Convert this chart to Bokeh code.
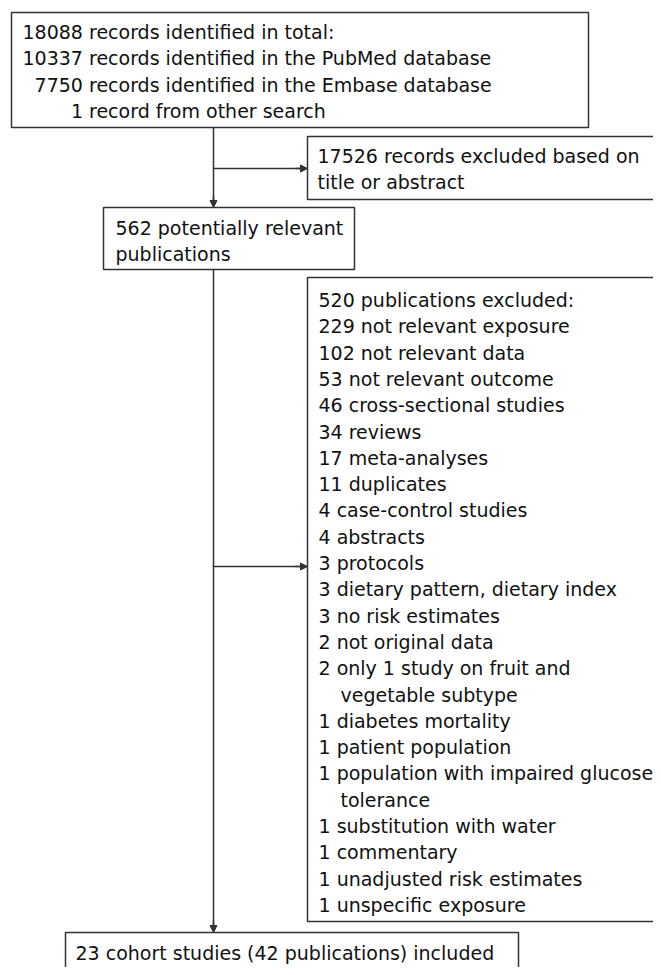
from bokeh.plotting import figure
from bokeh.models import Range1d, Arrow, NormalHead, ColumnDataSource
from bokeh.core.properties import value
from bokeh.embed import file_html
from bokeh.resources import INLINE

# ---- content (text of the flow chart) ----
identified_lines = [
    "18088 records identified in total:",
    "10337 records identified in the PubMed database",
    "7750 records identified in the Embase database",
    "1 record from other search",
]
identified_indent = [0, 0, 1, 4]  # in digit widths (right-aligned numbers)

screened_lines = ["17526 records excluded based on", "title or abstract"]
relevant_lines = ["562 potentially relevant", "publications"]

excluded_lines = [
    "520 publications excluded:",
    "229 not relevant exposure",
    "102 not relevant data",
    "53 not relevant outcome",
    "46 cross-sectional studies",
    "34 reviews",
    "17 meta-analyses",
    "11 duplicates",
    "4 case-control studies",
    "4 abstracts",
    "3 protocols",
    "3 dietary pattern, dietary index",
    "3 no risk estimates",
    "2 not original data",
    "2 only 1 study on fruit and",
    "vegetable subtype",
    "1 diabetes mortality",
    "1 patient population",
    "1 population with impaired glucose",
    "tolerance",
    "1 substitution with water",
    "1 commentary",
    "1 unadjusted risk estimates",
    "1 unspecific exposure",
]
excluded_wrapped = [l in ("vegetable subtype", "tolerance") for l in excluded_lines]

included_lines = ["23 cohort studies (42 publications) included"]

# ---- layout (pixel positions in the picture) ----
PW, PH = 653, 967
FONT = "DejaVu Sans"
FS = "19px"
LH = 26.3
LINE_COLOR = "#333333"
TEXT_COLOR = "#111111"
DIGIT = 12.1
TEXT_SHIFT = -7  # renderer places the baseline a little lower than requested

boxes = dict(
    left=[11, 307, 103, 307, 65],
    right=[588, 680, 354, 680, 518],
    top=[12, 136, 207, 277, 932],
    bottom=[127, 199, 269, 921, 1000],
)

p = figure(width=PW, height=PH, x_range=Range1d(0, PW), y_range=Range1d(PH, 0),
           output_backend="svg", toolbar_location=None,
           x_axis_location=None, y_axis_location=None, min_border=0)
p.outline_line_color = None
p.xgrid.visible = False
p.ygrid.visible = False
p.background_fill_color = "white"

p.quad(source=ColumnDataSource(boxes), left="left", right="right", top="top", bottom="bottom",
       fill_color=None, line_color=LINE_COLOR, line_width=1.5)

MAIN_X = 213
p.segment(x0=[MAIN_X], y0=[127], x1=[MAIN_X], y1=[207 - 7], line_color=LINE_COLOR, line_width=1.5)
p.segment(x0=[MAIN_X], y0=[269], x1=[MAIN_X], y1=[932 - 7], line_color=LINE_COLOR, line_width=1.5)
p.segment(x0=[MAIN_X, MAIN_X], y0=[168, 566], x1=[307 - 7, 307 - 7], y1=[168, 566],
          line_color=LINE_COLOR, line_width=1.5)

def arrow(x0, y0, x1, y1):
    p.add_layout(Arrow(end=NormalHead(size=7, fill_color=LINE_COLOR, line_color=LINE_COLOR, line_width=1),
                       x_start=x0, y_start=y0, x_end=x1, y_end=y1,
                       line_color=LINE_COLOR, line_width=1.5))

arrow(MAIN_X, 195, MAIN_X, 207)
arrow(MAIN_X, 920, MAIN_X, 932)
arrow(295, 168, 307, 168)
arrow(295, 566, 307, 566)

def add_text(lines, x0, y0, xoff=None):
    xs = [x0 + (xoff[i] if xoff else 0) for i in range(len(lines))]
    ys = [y0 + TEXT_SHIFT + i * LH for i in range(len(lines))]
    p.text(x=xs, y=ys, text=lines, text_font=value(FONT), text_font_size=FS,
           text_color=TEXT_COLOR, text_align="left", text_baseline="alphabetic")

add_text(identified_lines, 22, 38.5, [n * DIGIT for n in identified_indent])
add_text(screened_lines, 317, 162.5)
add_text(relevant_lines, 115, 234)
add_text(excluded_lines, 318, 306.5, [22 if w else 0 for w in excluded_wrapped])
add_text(included_lines, 75, 959)

open("out.html", "w").write(file_html(p, INLINE))
